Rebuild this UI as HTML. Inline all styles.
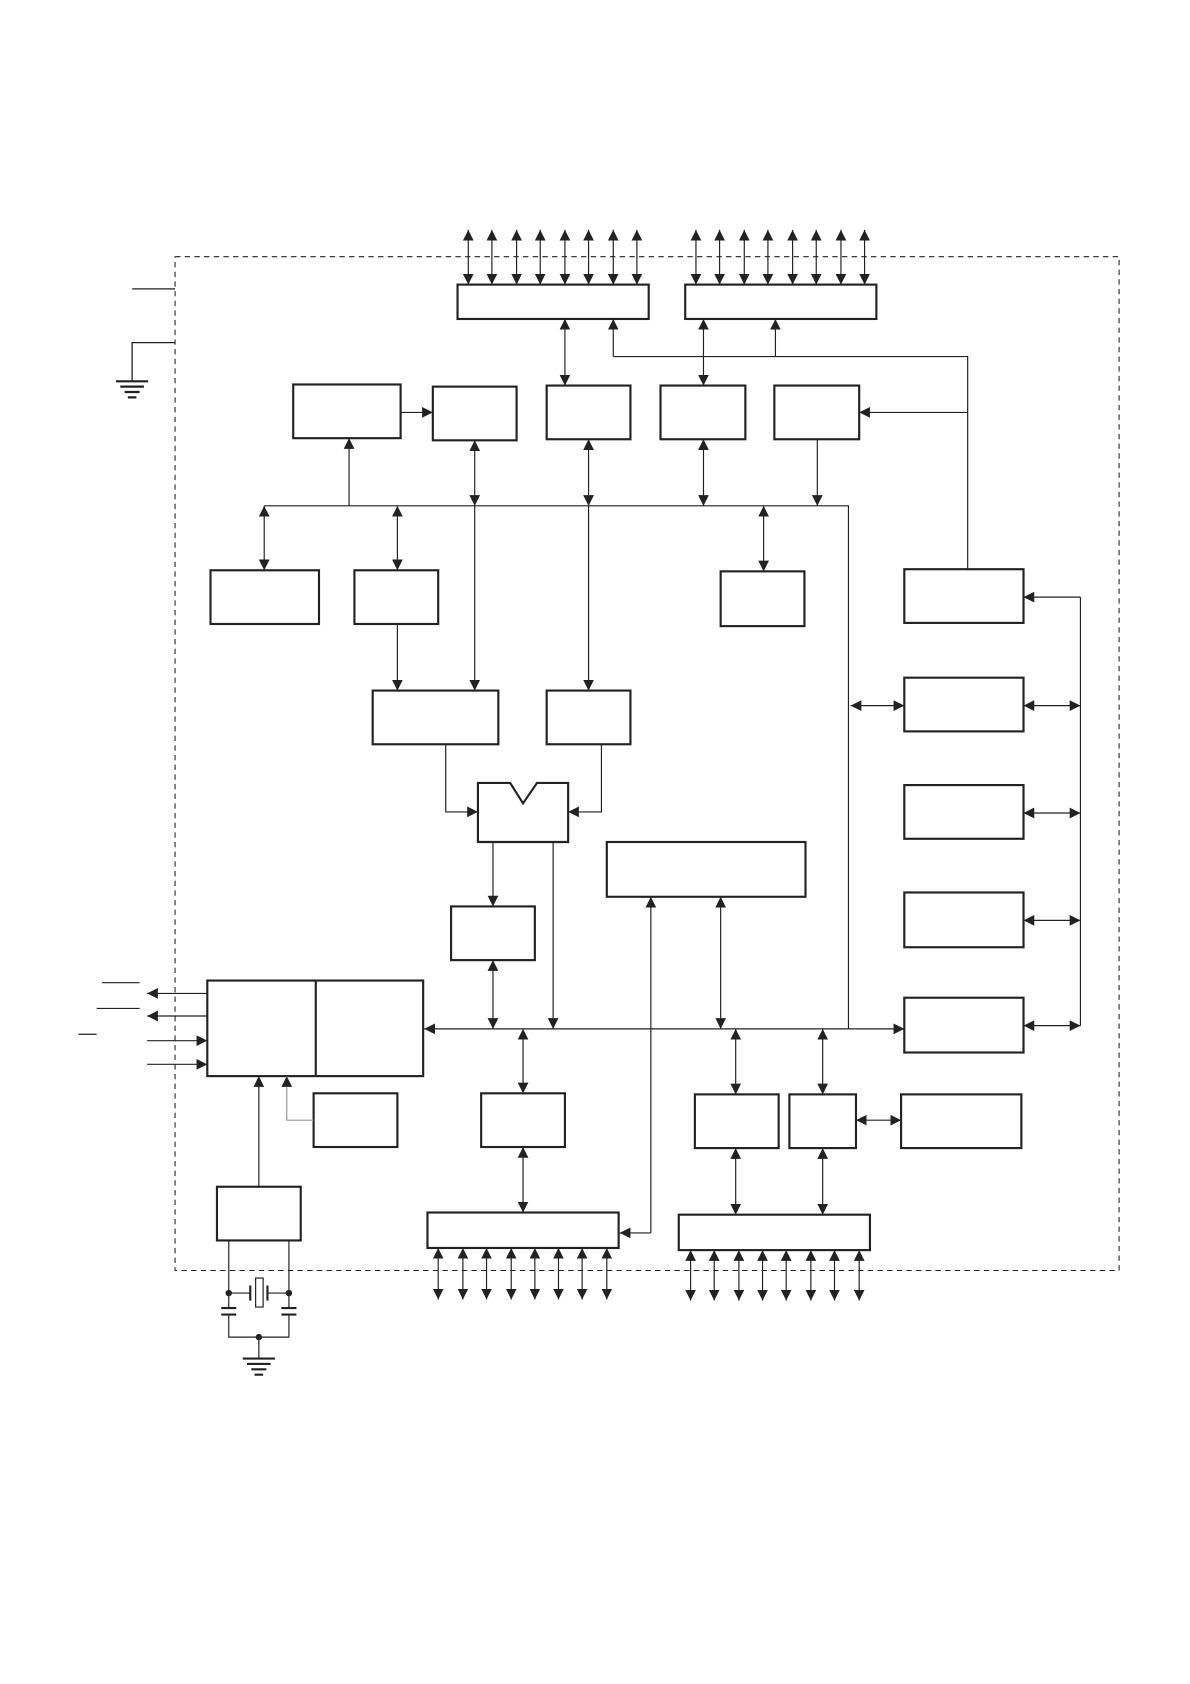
<!DOCTYPE html>
<html><head><style>html,body{margin:0;padding:0;background:#fff}svg{display:block}</style></head><body>
<svg width="1190" height="1684" viewBox="0 0 1108 1568" xmlns="http://www.w3.org/2000/svg">
<defs>
<marker id="a" viewBox="0 0 10 10" refX="10" refY="5" markerWidth="10" markerHeight="10" markerUnits="userSpaceOnUse" orient="auto-start-reverse"><path d="M0,0L10,5L0,10z" fill="#222"/></marker>
</defs>
<g fill="none" stroke="#222" stroke-width="1.2">
<rect x="163" y="239" width="879" height="944" stroke-dasharray="5,4" stroke-width="1"/>
<path d="M123 269H163M163 319H123V355"/>
</g>
<g fill="#fff" stroke="#222" stroke-width="2">
<rect x="426" y="265" width="178" height="32"/>
<rect x="638" y="265" width="178" height="32"/>
<rect x="273" y="358" width="100" height="50"/>
<rect x="403" y="360" width="78" height="50"/>
<rect x="509" y="359" width="78" height="50"/>
<rect x="615" y="359" width="79" height="50"/>
<rect x="721" y="359" width="79" height="50"/>
<rect x="196" y="531" width="101" height="50"/>
<rect x="330" y="531" width="78" height="50"/>
<rect x="671" y="532" width="78" height="51"/>
<rect x="347" y="643" width="117" height="50"/>
<rect x="509" y="643" width="78" height="50"/>
<path d="M445 729H475L487 748L500 729H529V784H445Z"/>
<rect x="565" y="784" width="185" height="51"/>
<rect x="420" y="844" width="78" height="50"/>
<rect x="842" y="530" width="111" height="50"/>
<rect x="842" y="631" width="111" height="50"/>
<rect x="842" y="731" width="111" height="50"/>
<rect x="842" y="831" width="111" height="51"/>
<rect x="842" y="929" width="111" height="51"/>
<rect x="193" y="913" width="201" height="89"/>
<line x1="294" y1="913" x2="294" y2="1002"/>
<rect x="292" y="1018" width="78" height="50"/>
<rect x="448" y="1018" width="78" height="50"/>
<rect x="647" y="1019" width="78" height="50"/>
<rect x="735" y="1019" width="62" height="50"/>
<rect x="839" y="1019" width="112" height="50"/>
<rect x="202" y="1105" width="78" height="50"/>
<rect x="398" y="1129" width="178" height="33"/>
<rect x="632" y="1131" width="178" height="33"/>
</g>
<g fill="none" stroke="#222" stroke-width="1.1">
<g marker-start="url(#a)" marker-end="url(#a)">
<path d="M436 265V214"/><path d="M458 265V214"/><path d="M481 265V214"/><path d="M503 265V214"/><path d="M526 265V214"/><path d="M548 265V214"/><path d="M571 265V214"/><path d="M593 265V214"/>
<path d="M648 265V214"/><path d="M670 265V214"/><path d="M693 265V214"/><path d="M715 265V214"/><path d="M738 265V214"/><path d="M760 265V214"/><path d="M783 265V214"/><path d="M805 265V214"/>
<path d="M408 1162V1210"/><path d="M431 1162V1210"/><path d="M453 1162V1210"/><path d="M476 1162V1210"/><path d="M498 1162V1210"/><path d="M520 1162V1210"/><path d="M542 1162V1210"/><path d="M565 1162V1210"/>
<path d="M643 1164V1211"/><path d="M665 1164V1211"/><path d="M688 1164V1211"/><path d="M710 1164V1211"/><path d="M732 1164V1211"/><path d="M755 1164V1211"/><path d="M777 1164V1211"/><path d="M800 1164V1211"/>
<path d="M526 297V359"/><path d="M655 297V359"/>
<path d="M442 410V471"/><path d="M548 409V471"/><path d="M655 409V471"/>
<path d="M246 471V531"/><path d="M370 471V531"/><path d="M711 471V532"/>
<path d="M459 894V958"/><path d="M671 835V958"/>
<path d="M792 657H842"/>
<path d="M953 657H1006"/><path d="M953 757H1006"/><path d="M953 857H1006"/><path d="M953 955H1006"/>
<path d="M487 958V1018"/><path d="M487 1068V1129"/>
<path d="M685 958V1019"/><path d="M766 958V1019"/>
<path d="M797 1043H839"/>
<path d="M685 1069V1131"/><path d="M766 1069V1131"/>
<path d="M395 958H842"/>
</g>
<g marker-end="url(#a)">
<path d="M373 384H403"/>
<path d="M571 332V297"/><path d="M722 332V297"/>
<path d="M901 384H800"/>
<path d="M325 471V408"/>
<path d="M761 409V471"/>
<path d="M442 471V643"/><path d="M548 471V643"/>
<path d="M370 581V643"/>
<path d="M415 693V756H445"/><path d="M560 693V756H529"/>
<path d="M459 784V844"/><path d="M515 784V958"/>
<path d="M606 1148H577"/>
<path d="M606 1148V835"/>
<path d="M1006 556H953"/>
<path d="M193 925H137"/><path d="M193 946H137"/>
<path d="M137 969H193"/><path d="M137 991H193"/>
<path d="M241 1105V1002"/>
</g>
<path d="M571 332H901V530"/>
<path d="M246 471H790V958"/>
<path d="M1006 556V955"/>
<path d="M292 1043H267V1012" stroke="#999"/>
<path d="M267 1010V1002" marker-end="url(#a)" stroke="#999"/>
<path d="M95 915H130M90 939H130M73 963H90"/>
<path d="M213 1155V1245H269V1155M241 1245V1265"/>
<path d="M213 1204H233M249 1204H269"/>
<rect x="238" y="1190" width="7" height="27" fill="#fff"/>
<path d="M233 1197V1211M249 1197V1211" stroke-width="2"/>
</g>
<g fill="#fff" stroke="none">
<rect x="205" y="1218" width="16" height="6"/><rect x="261" y="1218" width="16" height="6"/>
</g>
<g stroke="#222" stroke-width="2">
<path d="M206 1218H220M206 1224H220M262 1218H276M262 1224H276"/>
<path d="M108 355H138M112 360H134M116 365H130M119 370H127"/>
<path d="M226 1265H256M230 1270H252M234 1275H248M237 1280H245"/>
</g>
<g fill="#222"><circle cx="213" cy="1204" r="3"/><circle cx="269" cy="1204" r="3"/><circle cx="241" cy="1245" r="3"/></g>
</svg>
</body></html>
